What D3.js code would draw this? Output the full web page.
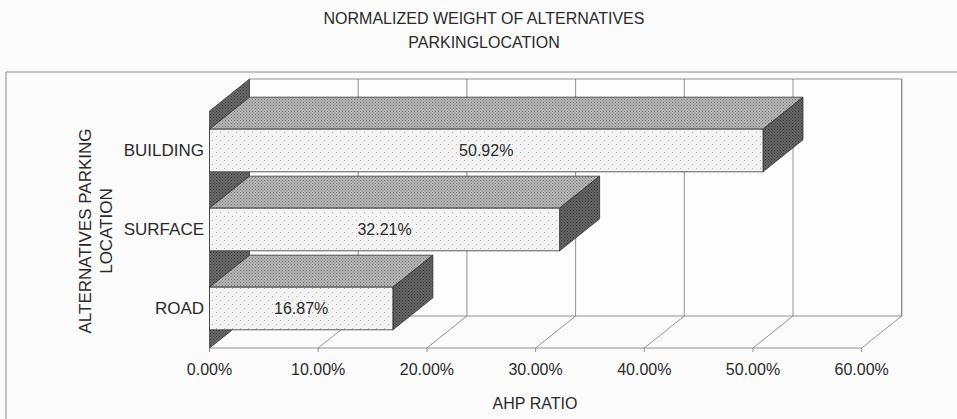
<!DOCTYPE html>
<html><head><meta charset="utf-8">
<script src="https://cdn.jsdelivr.net/npm/d3@7"></script>
<style>
html,body{margin:0;padding:0;background:#fbfbfb;}
svg{display:block;}
text{font-family:"Liberation Sans",Arial,sans-serif;fill:#2a2a2a;}
</style></head>
<body>
<svg id="c" width="957" height="419"></svg>
<script>
const categories = ["BUILDING", "SURFACE", "ROAD"];
const values = [0.5092, 0.3221, 0.1687];
const valueLabels = ["50.92%", "32.21%", "16.87%"];
const ticks = [0, 0.1, 0.2, 0.3, 0.4, 0.5, 0.6];
const tickLabels = ["0.00%", "10.00%", "20.00%", "30.00%", "40.00%", "50.00%", "60.00%"];
const titleLines = ["NORMALIZED WEIGHT OF ALTERNATIVES", "PARKINGLOCATION"];
const yTitleLines = ["ALTERNATIVES PARKING", "LOCATION"];
const xTitle = "AHP RATIO";

const svg = d3.select("#c");
const W = 957, H = 419;
const DX = 40, DY = -32; // depth offset

const x = d3.scaleLinear().domain([0, 0.6]).range([209.5, 861.7]);
const y = d3.scaleBand().domain(categories).range([111, 348]).paddingInner(0.46).paddingOuter(0.23);
const y0 = 111, y1 = 348;

// patterns
const defs = svg.append("defs");
function dotPattern(id, bg, dot, size, r) {
  const p = defs.append("pattern").attr("id", id).attr("patternUnits", "userSpaceOnUse")
    .attr("width", size).attr("height", size);
  p.append("rect").attr("width", size).attr("height", size).attr("fill", bg);
  p.append("rect").attr("x", 0).attr("y", 0).attr("width", r).attr("height", r).attr("fill", dot);
  p.append("rect").attr("x", size/2).attr("y", size/2).attr("width", r).attr("height", r).attr("fill", dot);
}
dotPattern("pFront", "#f3f3f3", "#b0b0b0", 8, 1);
dotPattern("pTop", "#b8b8b8", "#747474", 3, 1);
dotPattern("pSide", "#666666", "#363636", 3, 1);
dotPattern("pWall", "#6a6a6a", "#383838", 3, 1);

// outer frame
svg.append("line").attr("x1", 6).attr("x2", W).attr("y1", 72).attr("y2", 72).attr("stroke", "#8a8a8a").attr("stroke-width", 1);
svg.append("line").attr("x1", 6).attr("x2", 6).attr("y1", 72).attr("y2", H).attr("stroke", "#8a8a8a").attr("stroke-width", 1);

const line = d3.line();
const gridStroke = "#777";

// back wall
svg.append("path").attr("d", line([[x(0)+DX, y0+DY],[x(0.6)+DX, y0+DY],[x(0.6)+DX, y1+DY],[x(0)+DX, y1+DY]]) + "Z")
  .attr("fill", "#fdfdfd").attr("stroke", gridStroke).attr("stroke-width", 0.8);
// back grid
svg.selectAll(".bg").data(ticks).join("line")
  .attr("x1", d => x(d)+DX).attr("x2", d => x(d)+DX)
  .attr("y1", y0+DY).attr("y2", y1+DY).attr("stroke", gridStroke).attr("stroke-width", 0.8);
// floor grid
svg.selectAll(".fg").data(ticks).join("line")
  .attr("x1", d => x(d)).attr("x2", d => x(d)+DX)
  .attr("y1", y1).attr("y2", y1+DY).attr("stroke", gridStroke).attr("stroke-width", 0.8);
svg.append("line").attr("x1", x(0)).attr("x2", x(0.6)).attr("y1", y1).attr("y2", y1).attr("stroke", gridStroke).attr("stroke-width", 0.8);
// ticks
svg.selectAll(".tk").data(ticks).join("line")
  .attr("x1", d => x(d)).attr("x2", d => x(d)).attr("y1", y1).attr("y2", y1+4)
  .attr("stroke", gridStroke).attr("stroke-width", 0.8);

// left wall
svg.append("path").attr("d", line([[x(0), y0],[x(0)+DX, y0+DY],[x(0)+DX, y1+DY],[x(0), y1]]) + "Z")
  .attr("fill", "url(#pWall)").attr("stroke", "#444").attr("stroke-width", 0.8);

// bars
const bars = svg.append("g");
categories.forEach((c, i) => {
  const v = values[i];
  const t = y(c), b = y(c) + y.bandwidth();
  const xl = x(0), xr = x(v);
  const g = bars.append("g");
  g.append("path").attr("d", line([[xl, t],[xl+DX, t+DY],[xr+DX, t+DY],[xr, t]]) + "Z")
    .attr("fill", "url(#pTop)").attr("stroke", "#333").attr("stroke-width", 0.8);
  g.append("path").attr("d", line([[xr, t],[xr+DX, t+DY],[xr+DX, b+DY],[xr, b]]) + "Z")
    .attr("fill", "url(#pSide)").attr("stroke", "#333").attr("stroke-width", 0.8);
  g.append("rect").attr("x", xl).attr("y", t).attr("width", xr - xl).attr("height", b - t)
    .attr("fill", "url(#pFront)").attr("stroke", "#333").attr("stroke-width", 0.8);
  g.append("text").attr("x", (xl + xr) / 2).attr("y", (t + b) / 2).attr("dy", "0.35em")
    .attr("text-anchor", "middle").attr("font-size", 16).text(valueLabels[i]);
});

// category labels
svg.selectAll(".cl").data(categories).join("text")
  .attr("x", 204).attr("y", d => y(d) + y.bandwidth()/2).attr("dy", "0.35em")
  .attr("text-anchor", "end").attr("font-size", 17).text(d => d);

// tick labels
svg.selectAll(".tl").data(ticks).join("text")
  .attr("x", d => x(d)).attr("y", 375).attr("text-anchor", "middle").attr("font-size", 16)
  .text((d, i) => tickLabels[i]);

// x title
svg.append("text").attr("x", 535).attr("y", 409).attr("text-anchor", "middle").attr("font-size", 16).text(xTitle);

// y title
const yt = svg.append("text").attr("transform", "translate(0,231) rotate(-90)").attr("text-anchor", "middle").attr("font-size", 17);
yt.append("tspan").attr("x", 0).attr("y", 91).text(yTitleLines[0]);
yt.append("tspan").attr("x", 0).attr("y", 112).text(yTitleLines[1]);

// chart title
svg.selectAll(".tt").data(titleLines).join("text")
  .attr("x", 484).attr("y", (d, i) => 24 + i * 24).attr("text-anchor", "middle").attr("font-size", 16)
  .text(d => d);
</script>
</body></html>
